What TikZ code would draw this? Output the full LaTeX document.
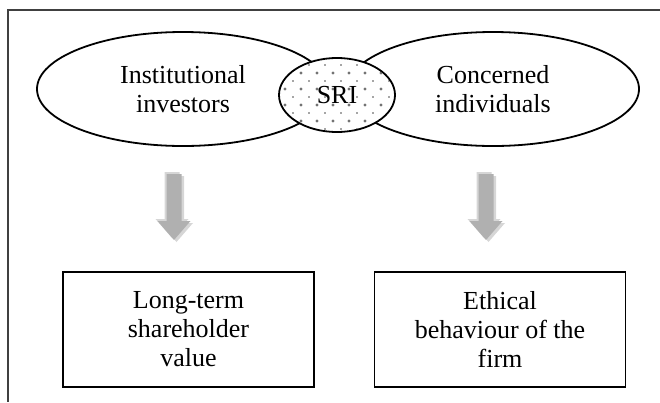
\documentclass[tikz,border=0pt]{standalone}
\usepackage{fontspec}
\setmainfont{Liberation Serif}
\usetikzlibrary{shapes.geometric}
\definecolor{arrmaincol}{HTML}{B0B0B0}
\definecolor{arrlightcol}{HTML}{D6D6D6}
\begin{document}
\begin{tikzpicture}[x=1pt,y=-1pt,
  every node/.style={font=\fontsize{26}{29}\selectfont, align=center},
  frameline/.style={draw=black!75, line width=1.2pt},
  bigell/.style={ellipse, draw, line width=1.8pt, minimum width=292pt, minimum height=114pt, inner sep=0pt},
  sriell/.style={ellipse, draw, line width=1.8pt, minimum width=116pt, minimum height=74pt, inner sep=0pt},
  outbox/.style={draw, line width=1.8pt, minimum width=251pt, minimum height=115pt, inner sep=0pt},
  arrmain/.style={fill=arrmaincol},
  arrlight/.style={fill=arrlightcol},
  dotbig/.style={fill=black!55},
  dotsmall/.style={fill=black!70}]
\useasboundingbox (0,0) rectangle (660,402);
% outer frame (top and left edges)
\draw[frameline] (660,10) -- (8,10) -- (8,402);
% big ellipses
\node[bigell] (inst) at (183,89) {Institutional\\investors};
\node[bigell] (conc) at (493,89) {Concerned\\individuals};
% SRI overlap ellipse
\fill[white] (337,95) ellipse [x radius=58, y radius=37];
\begin{scope}
  \clip (337,95) ellipse [x radius=57, y radius=36];
  \foreach \i in {-5,...,5}{
    \foreach \j in {-3,...,3}{
      \fill[dotbig] (333+16*\i, 89+16*\j) circle (1.7);
      \fill[dotsmall] (325+16*\i, 81+16*\j) circle (0.8);
    }
  }
\end{scope}
\node[sriell] (sri) at (337,95) {SRI};
% block arrows
\foreach \cx in {174,486}{
  \begin{scope}[shift={(\cx,174)}]
    \fill[arrlight, shift={(-2,-2)}] (-7.5,0) -- (7.5,0) -- (7.5,47) -- (16.5,47) -- (0,66) -- (-16.5,47) -- (-7.5,47) -- cycle;
    \fill[arrlight, shift={(2.5,2)}] (-7.5,0) -- (7.5,0) -- (7.5,47) -- (16.5,47) -- (0,66) -- (-16.5,47) -- (-7.5,47) -- cycle;
    \fill[arrmain] (-7.5,0) -- (7.5,0) -- (7.5,47) -- (16.5,47) -- (0,66) -- (-16.5,47) -- (-7.5,47) -- cycle;
  \end{scope}
}
% boxes
\node[outbox] (ltsv) at (188.5,329.5) {Long-term\\shareholder\\value};
\node[outbox] (ethic) at (500,329.5) {Ethical\\behaviour of the\\firm};
\end{tikzpicture}
\end{document}
